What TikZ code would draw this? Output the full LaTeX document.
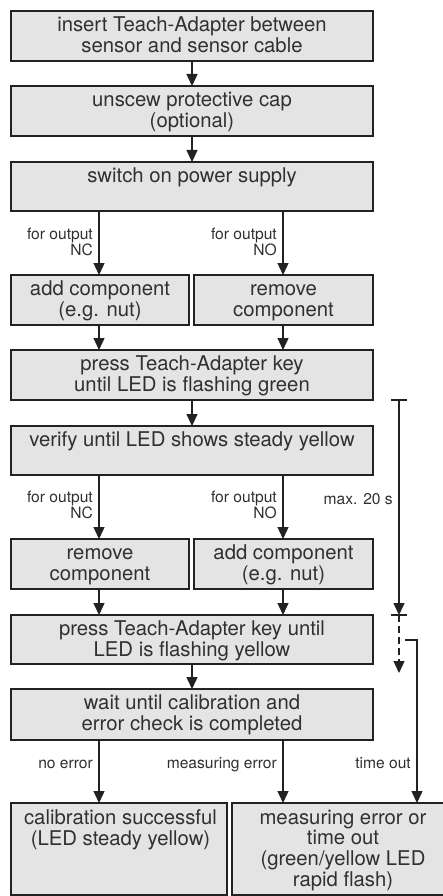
\documentclass[tikz,border=0pt]{standalone}
\usepackage{fontspec}
\setmainfont{TeX Gyre Heros}
\usetikzlibrary{arrows.meta}
\definecolor{boxfill}{HTML}{E4E4E4}
\definecolor{ink}{HTML}{222222}
\definecolor{txtc}{HTML}{303030}
\newcommand{\mlc}[1]{\begin{tabular}[t]{@{}c@{}}#1\end{tabular}}
\newcommand{\mlr}[1]{\begin{tabular}[t]{@{}r@{}}#1\end{tabular}}
\tikzset{
  x=1pt, y=-1pt,
  box/.style={draw=ink, fill=boxfill, line width=1.4pt, inner sep=0pt, outer sep=0pt},
  txt/.style={inner sep=0pt, font=\fontsize{20.3}{21}\selectfont, text=txtc, anchor=base},
  txtb/.style={inner sep=0pt, font=\fontsize{20.3}{20}\selectfont, text=txtc, anchor=base},
  lbl/.style={inner sep=0pt, font=\fontsize{15.6}{16}\selectfont, text=txtc, anchor=base east},
  arr/.style={draw=ink, line width=1.4pt, -{Triangle[length=12pt,width=11pt]}},
  ln/.style={draw=ink, line width=1.4pt},
}
\begin{document}
\begin{tikzpicture}
\useasboundingbox (0,0) rectangle (443,896);
\clip (0,0) rectangle (443,896);
% boxes
\node[box, minimum width=362pt, minimum height=50pt] (b1) at (192,36) {};
\node[box, minimum width=362pt, minimum height=50pt] (b2) at (192,111) {};
\node[box, minimum width=362pt, minimum height=49pt] (b3) at (192,186.5) {};
\node[box, minimum width=178pt, minimum height=50pt] (b4l) at (100,300) {};
\node[box, minimum width=179pt, minimum height=50pt] (b4r) at (283.5,300) {};
\node[box, minimum width=362pt, minimum height=50pt] (b5) at (192,375) {};
\node[box, minimum width=362pt, minimum height=49pt] (b6) at (192,450.5) {};
\node[box, minimum width=178pt, minimum height=50pt] (b7l) at (100,564) {};
\node[box, minimum width=179pt, minimum height=50pt] (b7r) at (283.5,564) {};
\node[box, minimum width=362pt, minimum height=49pt] (b8) at (192,639.5) {};
\node[box, minimum width=362pt, minimum height=51pt] (b9) at (192,714.5) {};
\node[box, minimum width=216pt, minimum height=92pt] (b10l) at (119,849) {};
\node[box, minimum width=214pt, minimum height=92pt] (b10r) at (339,849) {};
% texts (anchored at first baseline)
\node[txt] (t1) at ([yshift=-20.5pt]b1.north) {\mlc{insert Teach-Adapter between\\sensor and sensor cable}};
\node[txt] (t2) at ([yshift=-20.5pt]b2.north) {\mlc{unscew protective cap\\(optional)}};
\node[txt] (t3) at ([yshift=-20.5pt]b3.north) {\mlc{switch on power supply}};
\node[txt] (t4l) at ([yshift=-20.5pt]b4l.north) {\mlc{add component\\(e.g. nut)}};
\node[txt] (t4r) at ([yshift=-20.5pt]b4r.north) {\mlc{remove\\component}};
\node[txt] (t5) at ([yshift=-20.5pt]b5.north) {\mlc{press Teach-Adapter key\\until LED is flashing green}};
\node[txt] (t6) at ([yshift=-20.5pt]b6.north) {\mlc{verify until LED shows steady yellow}};
\node[txt] (t7l) at ([yshift=-20.5pt]b7l.north) {\mlc{remove\\component}};
\node[txt] (t7r) at ([yshift=-20.5pt]b7r.north) {\mlc{add component\\(e.g. nut)}};
\node[txt] (t8) at ([yshift=-20.5pt]b8.north) {\mlc{press Teach-Adapter key until\\LED is flashing yellow}};
\node[txt] (t9) at ([yshift=-20.5pt]b9.north) {\mlc{wait until calibration and\\error check is completed}};
\node[txtb] (t10l) at ([yshift=-21.5pt,xshift=1.5pt]b10l.north) {\mlc{calibration successful\\(LED steady yellow)}};
\node[txtb] (t10r) at ([yshift=-21.5pt,xshift=4pt]b10r.north) {\mlc{measuring error or\\time out\\(green/yellow LED\\rapid flash)}};
% main arrows
\draw[arr] (b1.south) -- (b2.north);
\draw[arr] (b2.south) -- (b3.north);
\draw[arr] (b5.south) -- (b6.north);
\draw[arr] (b8.south) -- (b9.north);
% branch points
\coordinate (s3l) at (99,211);  \coordinate (s3r) at (283,211);
\coordinate (n4l) at (99,275);  \coordinate (n4r) at (283,275);
\coordinate (s4l) at (99,325);  \coordinate (s4r) at (283,325);
\coordinate (n5l) at (99,350);  \coordinate (n5r) at (283,350);
\coordinate (s6l) at (99,475);  \coordinate (s6r) at (283,475);
\coordinate (n7l) at (99,539);  \coordinate (n7r) at (283,539);
\coordinate (s7l) at (99,589);  \coordinate (s7r) at (283,589);
\coordinate (n8l) at (99,615);  \coordinate (n8r) at (283,615);
\coordinate (s9l) at (99,740);  \coordinate (s9r) at (283,740);
\coordinate (n10l) at (99,803); \coordinate (n10r) at (283,803);
\draw[arr] (s3l) -- (n4l);
\draw[arr] (s3r) -- (n4r);
\draw[arr] (s4l) -- (n5l);
\draw[arr] (s4r) -- (n5r);
\draw[arr] (s6l) -- (n7l);
\draw[arr] (s6r) -- (n7r);
\draw[arr] (s7l) -- (n8l);
\draw[arr] (s7r) -- (n8r);
\draw[arr] (s9l) -- (n10l);
\draw[arr] (s9r) -- (n10r);
% labels (anchored at first baseline, right end)
\node[lbl] (l1) at (93,239.5) {\mlr{for output\\NC}};
\node[lbl] (l2) at (277,239.5) {\mlr{for output\\NO}};
\node[lbl] (l3) at (93,502.5) {\mlr{for output\\NC}};
\node[lbl] (l4) at (277,502.5) {\mlr{for output\\NO}};
\node[lbl] (l5) at (93,768.5) {no error};
\node[lbl] (l6) at (277,768.5) {measuring error};
\node[lbl] (l7) at (411,768.5) {time out};
\node[lbl] (l8) at (393,504) {max. 20 s};
% timer
\coordinate (tt) at (399,400);
\coordinate (tb) at (399,615);
\coordinate (td) at (399,673);
\draw[ln] (391,400) -- (407,400);
\draw[arr] (tt) -- (tb);
\draw[ln] (391,615) -- (407,615);
\draw[arr, dash pattern=on 7pt off 4pt] (tb) -- (td);
% time out
\coordinate (o1) at (405,640);
\coordinate (o2) at (417,640);
\coordinate (o3) at (417,803);
\draw[arr] (o1) -- (o2) -- (o3);
\end{tikzpicture}
\end{document}
